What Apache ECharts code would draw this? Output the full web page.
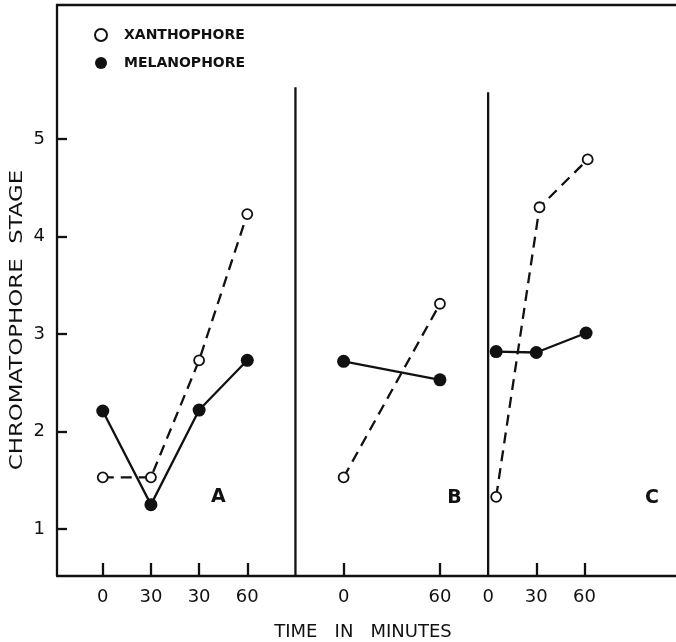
<!DOCTYPE html>
<html>
<head>
<meta charset="utf-8">
<script src="https://cdn.jsdelivr.net/npm/echarts@6/dist/echarts.min.js"></script>
<style>html,body{margin:0;padding:0;background:#fff}#c{width:676px;height:642px}</style>
</head>
<body>
<div id="c"></div>
<script>
// ---- data ----
const yTicks = [1, 2, 3, 4, 5];
// Panel A: four sequential time points (0, 30 | 30, 60)
const panelALabels = ['0', '30', '30', '60'];
const xanA = [1.53, 1.53, 2.73, 4.23];
const melA = [2.21, 1.25, 2.22, 2.73];
// Panel B
const panelBTimes = [0, 60];
const xanB = [1.53, 3.31];
const melB = [2.72, 2.53];
// Panel C (first points drawn just right of the divider)
const panelCTickTimes = [0, 30, 60];
const xanCTimes = [5, 32, 62];
const xanC = [1.33, 4.30, 4.79];
const melCTimes = [5, 30, 61];
const melC = [2.82, 2.81, 3.01];
// panel dividers (slot position) and their top values
const dividerSlots = [4, 8];
const dividerTops = [5.53, 5.48];
const panelNames = ['A', 'B', 'C'];

// ---- slot mapping (30 min per slot) ----
const B_OFF = 5, C_OFF = 8;
const slotB = t => B_OFF + t / 30;
const slotC = t => C_OFF + t / 30;

const Y_MIN = 0.518, Y_MAX = 6.374;
const X_MIN = -0.95, X_MAX = 11.9;

const tickSlots = [0, 1, 2, 3].concat(panelBTimes.map(slotB), panelCTickTimes.filter(t => t > 0).map(slotC));
const labelMap = {};
panelALabels.forEach((l, i) => labelMap[i] = l);
panelBTimes.forEach(t => labelMap[slotB(t)] = String(t));
panelCTickTimes.forEach(t => labelMap[slotC(t)] = String(t));
const labelSlots = Object.keys(labelMap).map(Number).sort((a, b) => a - b);

const INK = '#111';
const LW = 2.3;
const xanStyle = {
  type: 'line', name: 'XANTHOPHORE', symbol: 'circle', symbolSize: 10,
  itemStyle: { color: '#fff', borderColor: INK, borderWidth: 1.8 },
  lineStyle: { color: INK, width: LW, type: [11, 7] }, z: 3, silent: true
};
const melStyle = {
  type: 'line', name: 'MELANOPHORE', symbol: 'circle', symbolSize: 13,
  itemStyle: { color: INK, borderColor: INK, borderWidth: 0 },
  lineStyle: { color: INK, width: LW }, z: 4, silent: true
};

const series = [
  Object.assign({}, xanStyle, { data: xanA.map((v, i) => [i, v]) }),
  Object.assign({}, xanStyle, { data: xanB.map((v, i) => [slotB(panelBTimes[i]), v]) }),
  Object.assign({}, xanStyle, { data: xanC.map((v, i) => [slotC(xanCTimes[i]), v]) }),
  Object.assign({}, melStyle, { data: melA.map((v, i) => [i, v]) }),
  Object.assign({}, melStyle, { data: melB.map((v, i) => [slotB(panelBTimes[i]), v]) }),
  Object.assign({}, melStyle, { data: melC.map((v, i) => [slotC(melCTimes[i]), v]) })
];
dividerSlots.forEach((s, i) => {
  series.push({
    type: 'line', symbol: 'none', silent: true, z: 2,
    lineStyle: { color: INK, width: LW },
    data: [[s, Y_MIN], [s, dividerTops[i]]]
  });
});

const chart = echarts.init(document.getElementById('c'), null, { renderer: 'canvas' });
chart.setOption({
  backgroundColor: '#fff',
  animation: false,
  grid: { left: 57, right: 0, top: 5, bottom: 66 },
  legend: {
    data: ['XANTHOPHORE', 'MELANOPHORE'],
    orient: 'vertical', left: 89, top: 23, itemGap: 14,
    itemWidth: 12, itemHeight: 12, icon: 'circle',
    textStyle: { fontFamily: 'DejaVu Sans', fontWeight: 'bold', fontSize: 14, color: INK, padding: [0, 0, 0, 12] },
    selectedMode: false
  },
  xAxis: [{
    type: 'value', min: X_MIN, max: X_MAX,
    splitLine: { show: false },
    axisLine: { show: true, onZero: false, lineStyle: { color: INK, width: LW } },
    axisTick: { show: true, inside: true, length: 13, customValues: tickSlots, lineStyle: { color: INK, width: LW } },
    axisLabel: {
      customValues: labelSlots, formatter: v => labelMap[v] ?? '', margin: 12,
      fontFamily: 'DejaVu Sans', fontSize: 18, color: INK
    }
  }, {
    type: 'value', min: X_MIN, max: X_MAX, position: 'top',
    splitLine: { show: false }, axisTick: { show: false }, axisLabel: { show: false },
    axisLine: { show: true, onZero: false, lineStyle: { color: INK, width: LW } }
  }],
  yAxis: {
    type: 'value', min: Y_MIN, max: Y_MAX,
    splitLine: { show: false },
    axisLine: { show: true, onZero: false, lineStyle: { color: INK, width: LW } },
    axisTick: { show: true, inside: true, length: 10, customValues: yTicks, lineStyle: { color: INK, width: LW } },
    axisLabel: { customValues: yTicks, margin: 12, fontFamily: 'DejaVu Sans', fontSize: 18, color: INK }
  },
  series: series
});

// panel letters placed in data space
const letterPos = [[2.4, 1.33], [7.3, 1.32], [11.4, 1.32]];
const letters = panelNames.map((n, i) => {
  const p = chart.convertToPixel({ gridIndex: 0 }, letterPos[i]);
  return { type: 'text', x: p[0], y: p[1], style: { text: n, font: 'bold 19px "DejaVu Sans"', fill: INK, textAlign: 'center', textVerticalAlign: 'middle' } };
});
chart.setOption({ graphic: [
  { type: 'text', x: 363, y: 632, style: { text: 'TIME   IN   MINUTES', font: '18px "DejaVu Sans"', fill: INK, textAlign: 'center', textVerticalAlign: 'middle' } },
  { type: 'text', x: 17, y: 320, rotation: Math.PI / 2, scaleX: 1.27, style: { text: 'CHROMATOPHORE  STAGE', font: '18px "DejaVu Sans"', fill: INK, textAlign: 'center', textVerticalAlign: 'middle' } }
].concat(letters) });
</script>
</body>
</html>
